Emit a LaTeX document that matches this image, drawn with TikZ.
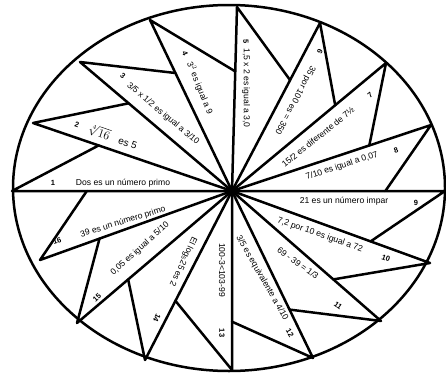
\documentclass[tikz,border=0pt]{standalone}
\usepackage{fontspec}
\setmainfont{Liberation Sans}
\usetikzlibrary{calc}
\tikzset{
  raya/.style={line width=2.5pt, line cap=round, line join=round},
  frase/.style={font=\fontsize{8.6}{10}\selectfont, inner sep=0pt},
  numero/.style={font=\bfseries\fontsize{7.5}{8.5}\selectfont, inner sep=0pt},
}
\begin{document}
\begin{tikzpicture}[x=1pt,y=1pt]
  \useasboundingbox (0,0) rectangle (446,376);

  % contorno de la rueda
  \draw[raya] (229,188) ellipse[x radius=216, y radius=183];

  % centro y puntas de las aspas
  \coordinate (c) at (232,185);
  \foreach \i/\x/\y in {1/12/185, 2/33/253, 3/80/314, 4/150/356,
      5/237/369, 6/320/353, 7/386/313, 8/431/251, 9/445/185,
      10/430/113, 11/381/55, 12/313/18, 13/232/6, 14/145/16,
      15/77/53, 16/40/116}
    \coordinate (p\i) at (\x,\y);

  % rayos y bordes de las aspas
  \foreach \i/\j/\f in {1/2/0.67, 2/3/0.68, 3/4/0.69, 4/5/0.65,
      5/6/0.66, 6/7/0.67, 7/8/0.69, 8/9/0.72, 9/10/0.70, 10/11/0.68,
      11/12/0.71, 12/13/0.73, 13/14/0.65, 14/15/0.67, 15/16/0.69,
      16/1/0.66} {
    \coordinate (q\i) at ($(c)!\f!(p\j)$);
    \draw[raya] (c) -- (p\i) -- (q\i);
  }
  \fill (c) circle[radius=5.5];

  % numeros
  \node[numero] (n1) at (53,193) {1};
  \node[numero, rotate=-19] (n2) at (77,251) {2};
  \node[numero, rotate=-40] (n3) at (123,300) {3};
  \node[numero, rotate=-68] (n4) at (185,323) {4};
  \node[numero, rotate=-90] (n5) at (246,334) {5};
  \node[numero, rotate=-118] (n6) at (320,324) {6};
  \node[numero, rotate=39] (n7) at (370,281) {7};
  \node[numero, rotate=18] (n8) at (396,226) {8};
  \node[numero] (n9) at (416,173) {9};
  \node[numero, rotate=-19] (n10) at (386,118) {10};
  \node[numero, rotate=-36] (n11) at (338,70) {11};
  \node[numero, rotate=-60] (n12) at (290,43) {12};
  \node[numero, rotate=-90] (n13) at (222,43) {13};
  \node[numero, rotate=-115] (n14) at (157,58) {14};
  \node[numero, rotate=42] (n15) at (97,78) {15};
  \node[numero, rotate=17] (n16) at (57,135) {16};

  % frases
  \node[frase] (t1) at (123,193) {Dos es un número primo};
  \node[frase, rotate=-19] (t2) at (113,239) {\large$\sqrt[4]{16}$\normalsize\quad es 5};
  \node[frase, rotate=-40] (t3) at (163,262) {3/5 x 1/2 es igual a 3/10};
  \node[frase, rotate=-68] (t4) at (200,288) {3$^2$ es igual a 9};
  \node[frase, rotate=-90] (t5) at (246,288) {1,5 x 2 es igual a 3,0};
  \node[frase, rotate=-118] (t6) at (295,276) {35 por 100 es = 350};
  \node[frase, rotate=39] (t7) at (318,239) {15/2 es diferente de 7½};
  \node[frase, rotate=18] (t8) at (342,210) {7/10 es igual a 0,07};
  \node[frase] (t9) at (344,175) {21 es un número impar};
  \node[frase, rotate=-19] (t10) at (320,141) {7,2 por 10 es igual a 72};
  \node[frase, rotate=-36] (t11) at (298,113) {69 - 39 = 1/3};
  \node[frase, rotate=-60] (t12) at (262,98) {3/5 es equivalente a 4/10};
  \node[frase, rotate=-90] (t13) at (222,106) {100-3<103-99};
  \node[frase, rotate=-115] (t14) at (183,114) {El log\textsubscript{5}25 es 2};
  \node[frase, rotate=42] (t15) at (140,127) {0,05 es igual a 5/10};
  \node[frase, rotate=17] (t16) at (123,154) {39 es un número primo};

\end{tikzpicture}
\end{document}
